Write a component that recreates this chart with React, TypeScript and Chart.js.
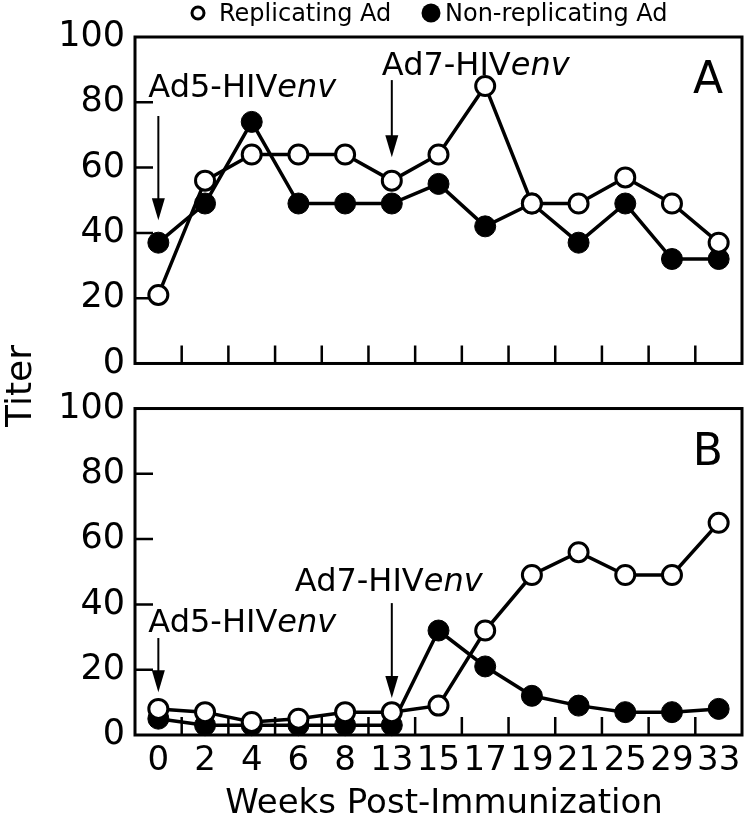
import { useEffect, useRef } from 'react';
import { Chart, registerables } from 'chart.js';

Chart.register(...registerables);

const weeks = ['0', '2', '4', '6', '8', '13', '15', '17', '19', '21', '25', '29', '33'];
const yTicks = [0, 20, 40, 60, 80, 100];
const seriesNames = ['Replicating Ad', 'Non-replicating Ad'];
const panelLabels = ['A', 'B'];

const panelARep = [21, 56, 64, 64, 64, 56, 64, 85, 49, 49, 57, 49, 37];
const panelANon = [37, 49, 74, 49, 49, 49, 55, 42, 49, 37, 49, 32, 32];
const panelBRep = [8, 7, 4, 5, 7, 7, 9, 32, 49, 56, 49, 49, 65];
const panelBNon = [5, 3, 3, 3, 3, 3, 32, 21, 12, 9, 7, 7, 8];

const xTitle = 'Weeks Post-Immunization';
const yTitle = 'Titer';

type Note = {
  scale: 'yA' | 'yB';
  cat: number;
  main: string;
  ital: string;
  textValue: number;
  textDx: number;
  fromValue: number;
  toValue: number;
};

const notes: Note[] = [
  { scale: 'yA', cat: 0, main: 'Ad5-HIV', ital: 'env', textValue: 81.6, textDx: -10, fromValue: 75.8, toValue: 43.9 },
  { scale: 'yA', cat: 5, main: 'Ad7-HIV', ital: 'env', textValue: 88.3, textDx: -10, fromValue: 86.8, toValue: 63.2 },
  { scale: 'yB', cat: 5, main: 'Ad7-HIV', ital: 'env', textValue: 44.0, textDx: -97, fromValue: 40.4, toValue: 11.3 },
  { scale: 'yB', cat: 0, main: 'Ad5-HIV', ital: 'env', textValue: 31.5, textDx: -10, fromValue: 29.7, toValue: 13.1 },
];

const GAP_UNITS = 13.8;
const FONT = 'DejaVu Sans';

const decor = {
  id: 'decor',
  beforeDatasetsDraw(chart: any) {
    const { ctx, chartArea } = chart;
    const x = chart.scales.x;
    ['yA', 'yB'].forEach((id) => {
      const y = chart.scales[id];
      const top = y.getPixelForValue(100);
      const bottom = y.getPixelForValue(0);
      ctx.save();
      ctx.strokeStyle = '#000';
      ctx.lineWidth = 3;
      ctx.strokeRect(chartArea.left, top, chartArea.right - chartArea.left, bottom - top);
      ctx.lineWidth = 2.5;
      ctx.beginPath();
      yTicks.forEach((v) => {
        if (v > 0 && v < 100) {
          const py = y.getPixelForValue(v);
          ctx.moveTo(chartArea.left, py);
          ctx.lineTo(chartArea.left + 18, py);
        }
      });
      for (let i = 0; i < weeks.length - 1; i++) {
        const px = (x.getPixelForValue(i) + x.getPixelForValue(i + 1)) / 2;
        ctx.moveTo(px, bottom);
        ctx.lineTo(px, bottom - 18);
      }
      ctx.stroke();
      ctx.restore();
    });
  },
  afterDatasetsDraw(chart: any) {
    const { ctx, chartArea } = chart;
    const x = chart.scales.x;
    ctx.save();
    ctx.fillStyle = '#000';
    ctx.strokeStyle = '#000';
    notes.forEach((n) => {
      const y = chart.scales[n.scale];
      const px = x.getPixelForValue(n.cat);
      const ty = y.getPixelForValue(n.textValue);
      ctx.textBaseline = 'alphabetic';
      ctx.textAlign = 'left';
      ctx.font = `32px "${FONT}"`;
      const w = ctx.measureText(n.main).width;
      ctx.fillText(n.main, px + n.textDx, ty);
      ctx.font = `italic 32px "${FONT}"`;
      ctx.fillText(n.ital, px + n.textDx + w, ty);
      const y1 = y.getPixelForValue(n.fromValue);
      const y2 = y.getPixelForValue(n.toValue);
      ctx.lineWidth = 2;
      ctx.beginPath();
      ctx.moveTo(px, y1);
      ctx.lineTo(px, y2 - 18);
      ctx.stroke();
      ctx.beginPath();
      ctx.moveTo(px - 6.5, y2 - 22);
      ctx.lineTo(px + 6.5, y2 - 22);
      ctx.lineTo(px, y2);
      ctx.closePath();
      ctx.fill();
    });
    ['yA', 'yB'].forEach((id, i) => {
      const y = chart.scales[id];
      ctx.font = `44px "${FONT}"`;
      ctx.textAlign = 'right';
      ctx.textBaseline = 'alphabetic';
      ctx.fillText(panelLabels[i], chartArea.right - 19, y.getPixelForValue(100) + 56);
    });
    ctx.font = `24px "${FONT}"`;
    ctx.textAlign = 'left';
    ctx.textBaseline = 'alphabetic';
    ctx.lineWidth = 3;
    ctx.beginPath();
    ctx.arc(198, 13, 6, 0, Math.PI * 2);
    ctx.fillStyle = '#fff';
    ctx.fill();
    ctx.stroke();
    ctx.fillStyle = '#000';
    ctx.fillText(seriesNames[0], 219, 21);
    ctx.beginPath();
    ctx.arc(431, 13, 9.5, 0, Math.PI * 2);
    ctx.fill();
    ctx.fillText(seriesNames[1], 445, 21);
    ctx.font = `34px "${FONT}"`;
    ctx.textAlign = 'center';
    ctx.fillText(xTitle, 444, 813);
    ctx.translate(31, 386);
    ctx.rotate(-Math.PI / 2);
    ctx.font = `36px "${FONT}"`;
    ctx.fillText(yTitle, 0, 0);
    ctx.restore();
  },
};

const openStyle = {
  borderColor: '#000',
  backgroundColor: '#fff',
  borderWidth: 3.5,
  pointRadius: 9.5,
  pointBorderWidth: 3,
  pointBackgroundColor: '#fff',
  pointBorderColor: '#000',
};
const filledStyle = {
  borderColor: '#000',
  backgroundColor: '#000',
  borderWidth: 3.5,
  pointRadius: 10.5,
  pointBorderWidth: 1,
  pointBackgroundColor: '#000',
  pointBorderColor: '#000',
};

export default function App() {
  const ref = useRef<HTMLCanvasElement | null>(null);
  useEffect(() => {
    document.body.style.margin = '0';
    const canvas = ref.current;
    if (!canvas) return;
    const yTickOpts = { color: '#000', font: { family: FONT, size: 35 }, padding: 10, autoSkip: false };
    const chart = new Chart(canvas, {
      type: 'line',
      data: {
        labels: weeks,
        datasets: [
          { label: seriesNames[0], data: panelARep, yAxisID: 'yA', clip: false, ...openStyle } as any,
          { label: seriesNames[1], data: panelANon, yAxisID: 'yA', clip: false, ...filledStyle } as any,
          { label: seriesNames[0], data: panelBRep, yAxisID: 'yB', clip: false, ...openStyle } as any,
          { label: seriesNames[1], data: panelBNon, yAxisID: 'yB', clip: false, ...filledStyle } as any,
        ],
      },
      options: {
        responsive: false,
        animation: false,
        layout: { padding: { top: 37, right: 8, left: 0, bottom: 0 }, autoPadding: false },
        plugins: { legend: { display: false }, tooltip: { enabled: false }, title: { display: false } },
        elements: { line: { tension: 0 } },
        scales: {
          x: {
            type: 'category',
            offset: true,
            grid: { display: false, drawTicks: false },
            border: { display: false },
            ticks: { color: '#000', font: { family: FONT, size: 34 }, padding: 6, maxRotation: 0, autoSkip: false },
            afterFit: (s: any) => { s.height = 85; },
          },
          yB: {
            type: 'linear',
            position: 'left',
            stack: 'titer',
            stackWeight: 100,
            min: 0,
            max: 100,
            grid: { display: false, drawTicks: false },
            border: { display: false },
            ticks: yTickOpts,
            afterBuildTicks: (s: any) => { s.ticks = yTicks.map((v) => ({ value: v })); },
            afterFit: (s: any) => { s.width = 135; },
          },
          yA: {
            type: 'linear',
            position: 'left',
            stack: 'titer',
            stackWeight: 100 + GAP_UNITS,
            min: -GAP_UNITS,
            max: 100,
            grid: { display: false, drawTicks: false },
            border: { display: false },
            ticks: yTickOpts,
            afterBuildTicks: (s: any) => { s.ticks = yTicks.map((v) => ({ value: v })); },
            afterFit: (s: any) => { s.width = 135; },
          },
        } as any,
      },
      plugins: [decor],
    });
    return () => chart.destroy();
  }, []);
  return (
    <div style={{ width: 750, height: 820, position: 'relative', background: '#fff' }}>
      <canvas ref={ref} width={750} height={820} style={{ width: 750, height: 820, display: 'block' }} />
    </div>
  );
}
